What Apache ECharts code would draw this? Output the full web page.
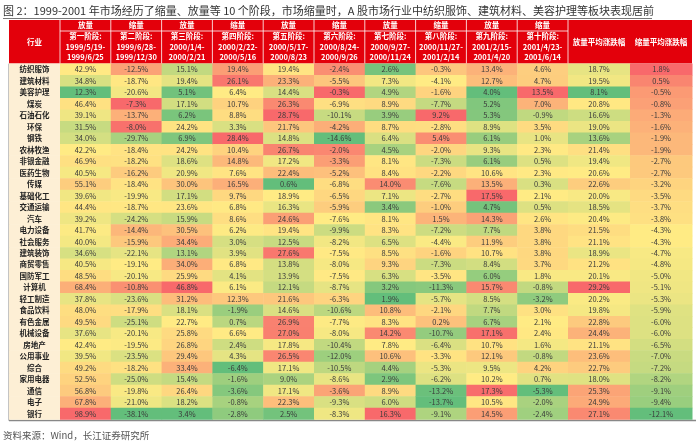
<!DOCTYPE html>
<html><head><meta charset="utf-8">
<script src="https://cdn.jsdelivr.net/npm/echarts@6/dist/echarts.min.js"></script>
<style>html,body{margin:0;padding:0;background:#fff}#c{width:700px;height:445px}</style>
</head><body><div id="c"></div>
<script>
const titleText = '图 2：1999-2001 年市场经历了缩量、放量等 10 个阶段，市场缩量时，A 股市场行业中纺织服饰、建筑材料、美容护理等板块表现居前';
const sourceText = '资料来源：Wind，长江证券研究所';
const industries = ['纺织服饰','建筑材料','美容护理','煤炭','石油石化','环保','钢铁','农林牧渔','非银金融','医药生物','传媒','基础化工','交通运输','汽车','电力设备','社会服务','建筑装饰','商贸零售','国防军工','计算机','轻工制造','食品饮料','有色金属','机械设备','房地产','公用事业','综合','家用电器','通信','电子','银行'];
const phaseTypes = ['放量','缩量','放量','缩量','放量','缩量','放量','缩量','放量','缩量'];
const phaseNames = ['第一阶段:','第二阶段:','第三阶段:','第四阶段:','第五阶段:','第六阶段:','第七阶段:','第八阶段:','第九阶段:','第十阶段:'];
const phaseStart = ['1999/5/19-','1999/6/28-','2000/1/4-','2000/2/22-','2000/5/17-','2000/8/24-','2000/9/27-','2000/11/27-','2001/2/15-','2001/4/23-'];
const phaseEnd = ['1999/6/25','1999/12/30','2000/2/21','2000/5/16','2000/8/23','2000/9/26','2000/11/24','2001/2/14','2001/4/20','2001/6/14'];
const avgNames = ['放量平均涨跌幅','缩量平均涨跌幅'];
const headerIndustry = '行业';

const phase1 = [42.9,34.8,12.3,46.4,39.1,31.5,34.0,42.2,46.9,40.5,55.1,39.6,44.4,39.2,41.7,40.0,34.6,40.5,48.5,68.4,37.8,48.0,49.5,37.6,42.4,39.5,49.2,52.5,56.8,67.8,98.9];
const phase2 = [-12.5,-18.7,-20.6,-7.3,-13.7,-8.0,-29.7,-18.4,-18.2,-16.2,-18.4,-19.9,-18.7,-24.2,-14.4,-15.9,-22.1,-19.1,-20.1,-10.8,-23.6,-17.9,-25.1,-20.1,-19.5,-23.5,-18.2,-25.0,-19.8,-21.0,-38.1];
const phase3 = [15.1,19.4,5.1,17.1,6.2,24.2,6.9,24.2,18.6,20.9,30.0,17.1,23.6,15.9,30.5,34.4,13.1,34.0,25.9,46.8,31.2,18.1,22.7,25.8,26.8,29.4,33.4,15.4,26.4,18.2,3.4];
const phase4 = [19.4,26.1,6.4,10.7,8.8,3.3,28.4,10.4,14.8,7.6,16.5,9.7,6.8,8.6,6.2,3.0,3.9,6.8,4.1,6.1,12.3,-1.9,0.7,6.6,2.4,4.3,-6.4,-1.6,-3.6,-0.8,-2.8];
const phase5 = [19.4,23.3,14.4,26.3,28.7,21.7,14.8,26.7,17.2,22.4,0.6,18.9,16.3,24.6,19.4,12.5,27.6,13.8,13.9,12.1,21.6,14.6,26.9,27.0,17.8,26.5,17.1,9.0,17.1,22.3,2.5];
const phase6 = [-2.4,-5.5,-0.3,-6.9,-10.1,-4.2,-14.6,-2.0,-3.3,-5.2,-6.8,-6.5,-5.9,-7.6,-9.9,-8.2,-7.5,-8.0,-7.5,-8.7,-6.3,-10.6,-7.7,-8.0,-10.4,-12.0,-10.5,-8.6,-3.6,-9.3,-8.3];
const phase7 = [2.6,7.3,4.9,8.9,3.9,8.7,6.4,4.5,8.1,8.4,14.0,7.1,3.4,8.1,8.3,6.5,8.5,9.3,6.3,3.2,1.9,10.8,8.3,14.2,7.8,10.6,4.4,2.9,8.9,6.0,16.3];
const phase8 = [-0.3,-4.1,-1.6,-7.7,9.2,-2.8,5.4,-2.0,-7.3,-2.2,-7.6,-2.7,-1.0,1.5,-7.2,-4.4,-1.6,-7.3,-3.5,-11.3,-5.7,-2.1,0.2,-10.7,-6.4,-3.3,-5.3,-6.2,-13.2,-13.7,-9.1];
const phase9 = [13.4,12.7,4.0,5.2,5.3,8.9,6.1,9.3,6.1,10.6,13.5,17.5,4.7,14.3,7.7,11.9,10.7,8.4,6.0,15.7,8.5,7.7,6.7,17.1,10.7,12.1,9.5,10.2,17.3,10.5,14.5];
const phase10 = [4.6,4.7,13.5,7.0,-0.9,3.5,1.0,2.3,0.5,2.3,0.3,2.1,0.5,2.6,3.8,3.8,3.8,3.7,1.8,-0.8,-3.2,3.0,2.1,2.4,1.6,-0.8,4.2,0.7,-5.3,-2.0,-2.4];
const avgUp = [18.7,19.5,8.1,20.8,16.6,19.0,13.6,21.4,19.4,20.6,22.6,20.0,18.5,20.4,21.5,21.1,18.9,21.2,20.1,29.2,20.2,19.8,22.8,24.4,21.1,23.6,22.7,18.0,25.3,24.9,27.1];
const avgDown = [1.8,0.5,-0.5,-0.8,-1.3,-1.6,-1.9,-1.9,-2.7,-2.7,-3.2,-3.5,-3.7,-3.8,-4.3,-4.3,-4.7,-4.8,-5.0,-5.1,-5.3,-5.9,-6.0,-6.0,-6.5,-7.0,-7.2,-8.2,-9.1,-9.4,-12.1];

const phaseCols = [phase1,phase2,phase3,phase4,phase5,phase6,phase7,phase8,phase9,phase10];
const avgCols = [avgUp, avgDown];

const FONT = '"Noto Sans CJK SC", "Noto Sans", sans-serif';
const RED = '#E3000B';
const GREEN = [99,190,123], YELLOW = [255,235,132], REDC = [248,105,107];
function mix(a,b,t){return 'rgb('+a.map((v,i)=>Math.round(v+(b[i]-v)*t)).join(',')+')';}
function scaleColors(arr){
  const s=[...arr].sort((a,b)=>a-b), n=s.length;
  const min=s[0], max=s[n-1];
  const mid = n%2 ? s[(n-1)/2] : (s[n/2-1]+s[n/2])/2;
  return arr.map(v=> v<=mid ? mix(GREEN,YELLOW,(v-min)/((mid-min)||1)) : mix(YELLOW,REDC,(v-mid)/((max-mid)||1)));
}
const phaseColors = phaseCols.map(scaleColors);
const avgColors = avgCols.map(scaleColors);

// layout
const L0=9, W0=51, L1=60, W1=508, L2=568, W2=124, TOP=63.6, H=355.6, HTOP=20, HROW=31;
const FS = 7.5;

function cellRender(colors, cols){
  return function(params, api){
    const xi=api.value(0), yi=api.value(1);
    const v=cols[xi][yi];
    const c=api.coord([xi,yi]); const s=api.size([1,1]);
    return {type:'group', children:[
      {type:'rect', shape:{x:c[0]-s[0]/2, y:c[1]-s[1]/2, width:s[0]+0.5, height:s[1]+0.5}, style:{fill:colors[xi][yi]}},
      {type:'text', x:c[0], y:c[1]+0.3, style:{text:v.toFixed(1)+'%', align:'center', verticalAlign:'middle', textAlign:'center', textVerticalAlign:'middle', fontSize:FS, fontFamily:FONT, fill:'#3a3a3a'}}
    ]};
  };
}
function labelRender(params, api){
  const yi=api.value(1);
  const c=api.coord([0,yi]); const s=api.size([1,1]);
  return {type:'group', children:[
    {type:'rect', shape:{x:c[0]-s[0]/2, y:c[1]-s[1]/2, width:s[0], height:s[1]+0.5}, style:{fill:'#FDEFD5'}},
    {type:'text', x:c[0], y:c[1]+0.3, style:{text:industries[yi], align:'center', verticalAlign:'middle', textAlign:'center', textVerticalAlign:'middle', fontSize:FS, fontWeight:'bold', fontFamily:FONT, fill:'#222'}}
  ]};
}

const phaseData=[]; phaseCols.forEach((col,j)=>col.forEach((v,i)=>phaseData.push([j,i,v])));
const avgData=[]; avgCols.forEach((col,j)=>col.forEach((v,i)=>avgData.push([j,i,v])));

// header graphics
const g=[];
function txt(x,y,t,opt){return Object.assign({type:'text', x:x, y:y, style:Object.assign({text:t, align:'center', verticalAlign:'middle', textAlign:'center', textVerticalAlign:'middle', fontSize:FS, fontWeight:'bold', fontFamily:FONT, fill:'#fff'}, opt||{})});}
g.push({type:'text', x:3, y:11, style:{text:titleText, align:'left', textAlign:'left', verticalAlign:'middle', textVerticalAlign:'middle', fontSize:11, fontFamily:FONT, fill:'#333'}});
g.push({type:'line', shape:{x1:3,y1:18.5,x2:652,y2:18.5}, style:{stroke:'#777', lineWidth:1}});
g.push({type:'rect', shape:{x:L0, y:HTOP, width:L2+W2-L0, height:TOP-HTOP}, style:{fill:RED}});
const cw=W1/10;
for(let i=0;i<=10;i++){
  const x=L1+i*cw;
  g.push({type:'line', shape:{x1:x,y1:HTOP,x2:x,y2:TOP}, style:{stroke:'#fff', lineWidth:0.8}});
}
g.push({type:'line', shape:{x1:L1,y1:HROW,x2:L2,y2:HROW}, style:{stroke:'#fff', lineWidth:0.8}});
g.push(txt(L0+W0/2, (HTOP+TOP)/2, headerIndustry));
for(let i=0;i<10;i++){
  const cx=L1+(i+0.5)*cw;
  g.push(txt(cx, 25.6, phaseTypes[i]));
  g.push(txt(cx, 36.5, phaseNames[i]));
  g.push(txt(cx, 47, phaseStart[i]));
  g.push(txt(cx, 57.4, phaseEnd[i]));
}
for(let j=0;j<2;j++){
  g.push(txt(L2+(j+0.5)*W2/2, 42, avgNames[j]));
}
g.push({type:'line', shape:{x1:L0,y1:TOP,x2:L0,y2:TOP+H+1.5}, style:{stroke:'#888', lineWidth:1}});
g.push({type:'line', shape:{x1:L0,y1:TOP+H+1.2,x2:696,y2:TOP+H+1.2}, style:{stroke:'#888', lineWidth:1.5}});
g.push({type:'text', x:3, y:435, style:{text:sourceText, align:'left', textAlign:'left', verticalAlign:'middle', textVerticalAlign:'middle', fontSize:9.5, fontFamily:FONT, fill:'#555'}});

const chart = echarts.init(document.getElementById('c'));
chart.setOption({
  animation:false,
  backgroundColor:'#fff',
  grid:[
    {left:L0, top:TOP, width:W0, height:H},
    {left:L1, top:TOP, width:W1, height:H},
    {left:L2, top:TOP, width:W2, height:H}
  ],
  xAxis:[
    {type:'category', gridIndex:0, data:[headerIndustry], show:false},
    {type:'category', gridIndex:1, data:phaseNames, show:false},
    {type:'category', gridIndex:2, data:avgNames, show:false}
  ],
  yAxis:[0,1,2].map(k=>({type:'category', gridIndex:k, data:industries, inverse:true, show:false})),
  series:[
    {type:'custom', xAxisIndex:0, yAxisIndex:0, renderItem:labelRender, data:industries.map((_,i)=>[0,i])},
    {type:'custom', xAxisIndex:1, yAxisIndex:1, renderItem:cellRender(phaseColors, phaseCols), data:phaseData},
    {type:'custom', xAxisIndex:2, yAxisIndex:2, renderItem:cellRender(avgColors, avgCols), data:avgData}
  ],
  graphic:{elements:g}
});
</script>
</body></html>
